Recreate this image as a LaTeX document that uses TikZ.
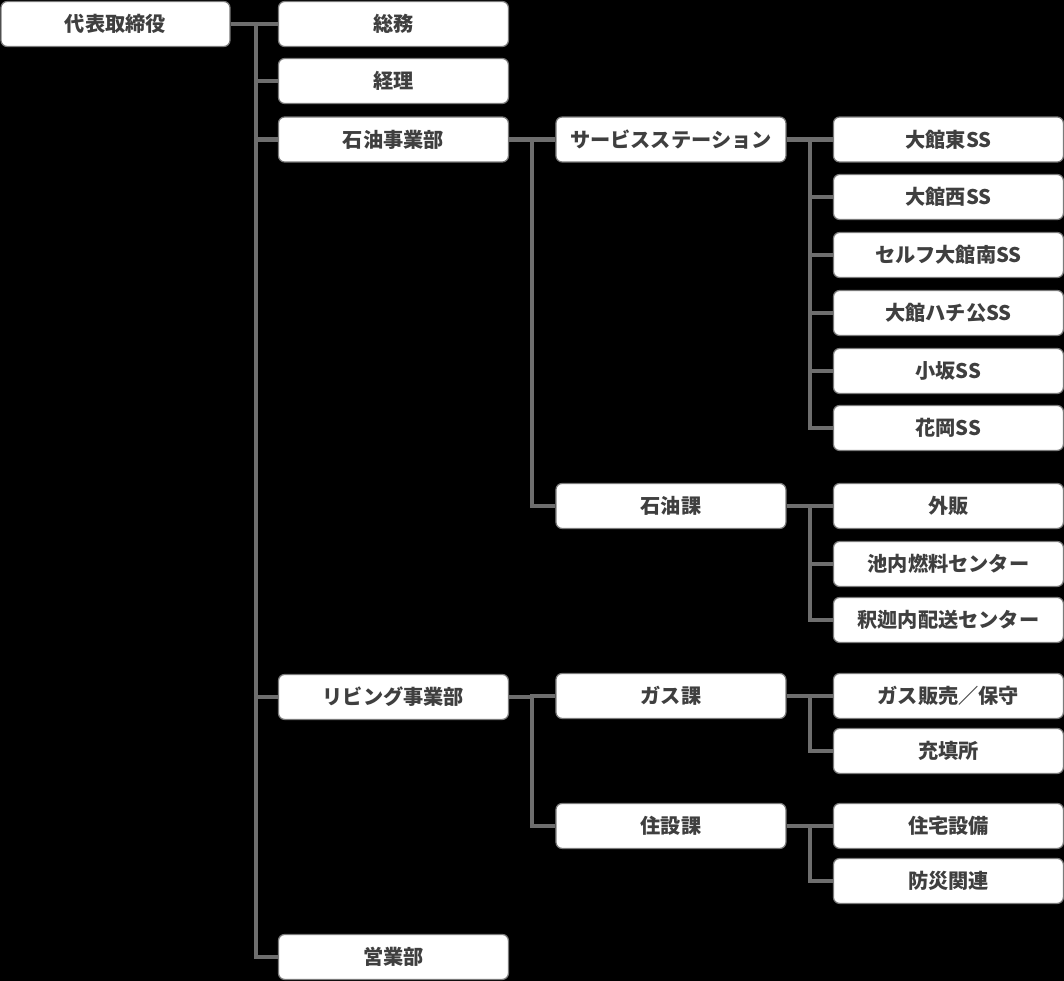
\documentclass[tikz,border=0pt]{standalone}
\usepackage{fontspec}
\setmainfont{Noto Sans CJK JP}
\usepackage{xcolor}
\usetikzlibrary{positioning}
\definecolor{linegray}{HTML}{6E6E6E}
\definecolor{boxgray}{HTML}{7A7A7A}
\definecolor{textgray}{HTML}{3F3F3F}

\begin{document}
\begin{tikzpicture}[x=0.02cm, y=-0.02cm, thick]

	% Define styles
	\tikzstyle{unit} = [rectangle, rounded corners=3.5pt, draw=boxgray, line width=0.7pt, fill=white, text=textgray, font=\bfseries\fontsize{11.5}{12}\selectfont, minimum width=4.6cm, minimum height=0.9cm, inner sep=0pt]
	\tikzstyle{link} = [draw=linegray, line width=2.4pt]

	% Background
	\fill[black] (0,0) rectangle (1064,981);

	% Top
	\node[unit, minimum width=4.58cm] (ceo) at (115.5,24) {代表取締役};

	% Departments
	\node[unit] (soumu) at (393.5,24) {総務};
	\node[unit] (keiri) at (393.5,81) {経理};
	\node[unit] (sekiyu) at (393.5,139.5) {石油事業部};
	\node[unit] (living) at (393.5,697) {リビング事業部};
	\node[unit] (eigyo) at (393.5,957) {営業部};

	% Sections
	\node[unit] (ss) at (671,139.5) {サービスステーション};
	\node[unit] (sekiyuka) at (671,506) {石油課};
	\node[unit] (gasuka) at (671,696) {ガス課};
	\node[unit] (jusetsuka) at (671,826) {住設課};

	% Sites
	\node[unit] (odateE) at (948.5,139.5) {大館東SS};
	\node[unit] (odateW) at (948.5,197) {大館西SS};
	\node[unit] (minami) at (948.5,255) {セルフ大館南SS};
	\node[unit] (hachiko) at (948.5,313) {大館ハチ公SS};
	\node[unit] (kosaka) at (948.5,371) {小坂SS};
	\node[unit] (hanaoka) at (948.5,428) {花岡SS};
	\node[unit] (gaihan) at (948.5,506) {外販};
	\node[unit] (ikenai) at (948.5,564) {池内燃料センター};
	\node[unit] (shakanai) at (948.5,620) {釈迦内配送センター};
	\node[unit] (gashan) at (948.5,696) {ガス販売／保守};
	\node[unit] (juten) at (948.5,751) {充填所};
	\node[unit] (jutaku) at (948.5,826) {住宅設備};
	\node[unit] (bousai) at (948.5,881) {防災関連};

	% Joints
	\coordinate (ceoJoint) at (256,24);
	\coordinate (sekiyuJoint) at (532,139.5);
	\coordinate (livingJoint) at (532,697);
	\coordinate (ssJoint) at (810,139.5);
	\coordinate (sekiyukaJoint) at (810,506);
	\coordinate (gasukaJoint) at (810,696);
	\coordinate (jusetsukaJoint) at (810,826);

	% Lines
	\foreach \c in {soumu,keiri,sekiyu,living,eigyo}
		\draw[link] (ceo.east) -- (ceoJoint) |- (\c.west);
	\foreach \c in {ss,sekiyuka}
		\draw[link] (sekiyu.east) -- (sekiyuJoint) |- (\c.west);
	\foreach \c in {gasuka,jusetsuka}
		\draw[link] (living.east) -- (livingJoint) |- (\c.west);
	\foreach \c in {odateE,odateW,minami,hachiko,kosaka,hanaoka}
		\draw[link] (ss.east) -- (ssJoint) |- (\c.west);
	\foreach \c in {gaihan,ikenai,shakanai}
		\draw[link] (sekiyuka.east) -- (sekiyukaJoint) |- (\c.west);
	\foreach \c in {gashan,juten}
		\draw[link] (gasuka.east) -- (gasukaJoint) |- (\c.west);
	\foreach \c in {jutaku,bousai}
		\draw[link] (jusetsuka.east) -- (jusetsukaJoint) |- (\c.west);

\end{tikzpicture}
\end{document}
